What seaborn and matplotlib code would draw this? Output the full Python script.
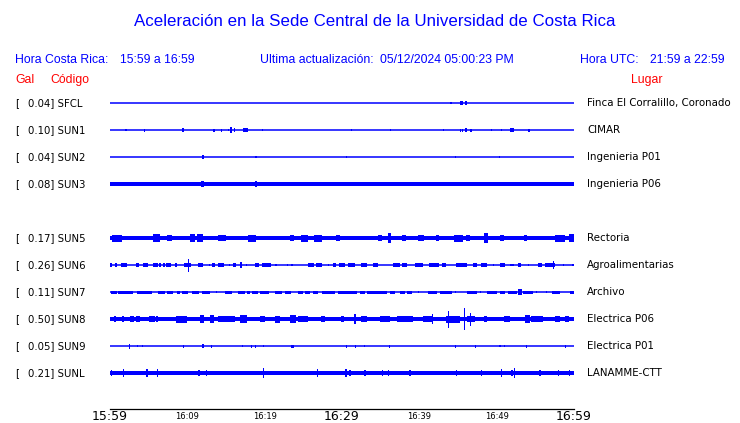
import matplotlib
matplotlib.use("Agg")
import matplotlib.pyplot as plt
import pandas as pd
import seaborn as sns
from matplotlib.transforms import blended_transform_factory

# ---------------- data ----------------
TITLE = "Aceleración en la Sede Central de la Universidad de Costa Rica"
HDR_CR_LABEL = "Hora Costa Rica:"
HDR_CR_RANGE = "15:59 a 16:59"
HDR_UPDATE = "Ultima actualización:"
HDR_UPDATE_VAL = "05/12/2024 05:00:23 PM"
HDR_UTC_LABEL = "Hora UTC:"
HDR_UTC_RANGE = "21:59 a 22:59"
COL_GAL, COL_CODE, COL_PLACE = "Gal", "Código", "Lugar"

CODES = ["SFCL", "SUN1", "SUN2", "SUN3", "SUN5", "SUN6", "SUN7", "SUN8", "SUN9", "SUNL"]
GAL = [0.04, 0.10, 0.04, 0.08, 0.17, 0.26, 0.11, 0.50, 0.05, 0.21]
PLACES = ["Finca El Corralillo, Coronado", "CIMAR", "Ingenieria P01", "Ingenieria P06",
          "Rectoria", "Agroalimentarias", "Archivo", "Electrica P06", "Electrica P01",
          "LANAMME-CTT"]
ROWS = [0, 1, 2, 3, 5, 6, 7, 8, 9, 10]          # slot 4 (SUN4) is empty
BAND_PX = [0, 0, 0, 1.7, 2.2, 0, 0, 2.0, 0, 1.7]  # steady noise half-width (px)

TICK_MIN = [0, 5, 10, 15, 20, 25, 30, 35, 40, 45, 50, 55, 60]
TICK_LABELS = ["15:59", "", "16:09", "", "16:19", "", "16:29", "", "16:39", "", "16:49", "", "16:59"]
BIG_TICKS = ["15:59", "16:29", "16:59"]

# bursts: (start minute, end minute, half amplitude in px)
SFCL_EV = [(44.0, 44.2, 0.8), (45.3, 45.6, 1.6), (45.9, 46.2, 1.6)]
SUN1_EV = [(2.0, 2.15, 1.0), (4.4, 4.55, 1.5), (9.3, 9.55, 1.6), (13.35, 13.6, 1.5), (14.3, 14.5, 1.5),
           (15.2, 15.35, 1.2), (15.55, 15.75, 2.6), (16.0, 16.2, 1.6), (17.2, 17.9, 1.6), (19.6, 19.75, 0.8),
           (31.2, 31.35, 1.2), (36.15, 36.3, 0.8), (43.05, 43.2, 1.2), (45.2, 45.35, 1.5), (45.55, 45.7, 1.5),
           (45.95, 46.15, 1.6), (46.55, 46.75, 1.5), (49.3, 49.45, 1.2), (50.6, 50.75, 1.2), (51.7, 52.3, 1.6),
           (54.1, 54.3, 1.5)]
SUN2_EV = [(11.85, 12.1, 1.6), (18.8, 18.95, 1.2), (30.5, 30.65, 1.2), (44.55, 44.7, 1.2), (50.3, 50.45, 1.0)]
SUN3_EV = [(11.8, 12.1, 3.0), (18.8, 18.95, 2.6), (50.35, 50.5, 2.2)]
SUN5_EV = [(0.2, 1.5, 3.5), (5.6, 6.5, 3.6), (7.4, 8.0, 3.4), (10.4, 11.0, 4.2), (11.3, 12.0, 4.0),
           (14.0, 15.0, 3.4), (17.9, 18.9, 3.5), (23.3, 23.8, 3.0), (24.7, 25.6, 3.5), (26.4, 27.4, 3.5),
           (29.2, 29.8, 3.0), (34.6, 35.2, 3.0), (36.0, 36.4, 4.6), (37.7, 38.3, 3.4), (39.8, 40.6, 3.4),
           (42.1, 42.5, 3.4), (44.5, 45.6, 3.5), (46.0, 46.6, 3.4), (48.3, 48.9, 5.0), (50.4, 51.0, 3.0),
           (53.5, 53.9, 3.0), (57.6, 58.8, 3.5), (59.3, 60.0, 3.6)]
SUN6_EV = [(0.05, 0.25, 1.6), (0.65, 0.85, 1.6), (1.4, 2.15, 1.8), (3.3, 3.7, 1.6), (4.3, 4.85, 1.6),
           (5.6, 6.15, 1.6), (6.4, 6.55, 1.6), (6.85, 7.05, 1.6), (7.3, 7.9, 1.6), (8.4, 8.6, 1.6),
           (9.6, 10.5, 2.2), (10.05, 10.2, 6.5), (11.4, 12.0, 1.6), (12.75, 12.9, 1.0), (13.2, 13.6, 1.6),
           (14.0, 14.8, 1.6), (15.35, 15.5, 1.2), (15.9, 16.25, 1.6), (16.85, 17.05, 3.2), (17.6, 17.75, 1.0),
           (18.8, 19.25, 1.6), (19.7, 20.8, 1.6), (21.4, 21.55, 1.2), (22.9, 23.05, 1.0), (23.45, 23.6, 1.0),
           (25.6, 26.4, 1.6), (26.6, 27.4, 1.6), (28.15, 28.3, 1.2), (28.8, 29.2, 1.6), (29.6, 30.4, 1.6),
           (30.8, 31.7, 1.6), (32.5, 33.2, 1.6), (34.0, 34.7, 1.6), (36.6, 37.5, 1.6), (37.8, 38.4, 1.6),
           (39.4, 40.5, 1.6), (41.2, 42.5, 1.6), (42.9, 43.5, 1.6), (44.8, 46.1, 1.6), (46.9, 47.4, 1.6),
           (48.0, 48.7, 1.6), (49.5, 49.65, 1.0), (50.4, 51.1, 1.6), (51.7, 52.2, 1.2), (52.8, 53.2, 1.6),
           (54.0, 54.15, 1.0), (55.4, 55.8, 1.6), (56.3, 57.5, 1.8), (57.25, 57.4, 3.6), (58.55, 58.7, 1.0),
           (59.8, 59.95, 1.0)]
SUN7_EV = [(0.13, 0.86, 1.5), (1.07, 3.01, 1.5), (3.44, 5.38, 1.5), (6.25, 7.11, 1.5), (7.32, 8.19, 1.5),
           (8.62, 9.05, 1.5), (9.35, 10.04, 1.5), (10.64, 11.51, 1.5), (11.85, 12.93, 1.5), (13.75, 13.9, 1.2),
           (14.87, 15.73, 1.5), (16.59, 17.45, 1.5), (17.67, 18.10, 1.5), (18.32, 19.18, 1.5), (19.39, 20.56, 1.5),
           (21.33, 22.19, 1.5), (22.62, 23.40, 1.5), (24.35, 24.99, 1.5), (25.21, 25.86, 1.5), (26.29, 26.93, 1.5),
           (27.37, 29.09, 1.5), (29.52, 31.90, 1.5), (32.33, 32.97, 1.5), (33.19, 35.77, 1.5), (36.21, 36.85, 1.5),
           (37.50, 38.15, 1.5), (38.36, 39.01, 1.5), (39.8, 39.95, 1.2), (41.16, 42.24, 1.5), (42.67, 44.18, 1.5),
           (44.55, 44.7, 1.2), (46.12, 47.41, 1.5), (47.8, 47.95, 1.2), (48.71, 50.0, 1.5), (50.43, 51.08, 1.5),
           (51.51, 52.59, 1.5), (52.8, 53.23, 3.0), (53.45, 54.74, 1.5), (55.1, 55.25, 1.2), (56.4, 56.55, 1.2),
           (57.11, 58.19, 1.5), (59.48, 60.0, 1.5)]
SUN8_EV = [(0.5, 0.8, 3.0), (1.6, 1.85, 3.0), (2.6, 3.1, 3.0), (3.4, 3.9, 3.0), (5.1, 5.8, 3.2),
           (6.0, 6.25, 3.0), (8.5, 9.9, 3.5), (11.6, 12.1, 3.6), (12.9, 13.4, 4.0), (14.0, 16.2, 3.2),
           (16.8, 17.7, 3.8), (19.4, 20.0, 3.0), (21.3, 22.0, 3.5), (23.3, 24.1, 3.6), (24.3, 25.6, 3.2),
           (27.3, 27.8, 3.0), (29.9, 30.2, 3.0), (31.6, 31.75, 5.0), (32.5, 33.2, 3.0), (34.9, 36.2, 3.0),
           (37.1, 39.2, 3.0), (40.5, 41.8, 3.4), (41.65, 41.8, 4.6), (43.4, 45.3, 3.5), (43.7, 43.85, 8.5),
           (45.75, 45.9, 11.0), (46.1, 47.2, 3.2), (46.5, 46.65, 6.5), (48.3, 48.7, 3.0), (50.9, 51.7, 3.0),
           (53.7, 54.3, 3.6), (54.5, 56.0, 3.0), (57.5, 58.2, 3.0), (58.8, 59.3, 3.0)]
SUN9_EV = [(2.5, 2.65, 2.5), (3.45, 3.6, 1.0), (4.1, 4.25, 1.0), (9.4, 9.55, 1.5), (11.85, 12.2, 1.6),
           (13.0, 13.15, 1.5), (17.05, 17.2, 1.0), (18.25, 18.4, 1.5), (18.75, 18.9, 1.5), (19.75, 19.9, 1.0),
           (23.4, 23.85, 1.5), (30.55, 30.7, 1.5), (31.7, 31.85, 1.5), (32.85, 32.95, 1.0), (36.05, 36.2, 1.5),
           (44.55, 44.7, 1.5), (47.15, 47.3, 1.5), (50.35, 50.5, 1.2), (50.9, 51.05, 1.2), (53.8, 53.95, 1.5),
           (58.8, 58.95, 1.5)]
SUNL_EV = [(0.1, 0.25, 2.6), (1.65, 1.8, 3.6), (4.7, 4.85, 3.6), (6.1, 6.25, 3.6), (11.4, 11.6, 3.0),
           (12.4, 12.6, 3.0), (19.75, 19.9, 5.0), (26.8, 26.95, 3.6), (30.45, 30.6, 3.6), (30.95, 31.1, 3.0),
           (32.9, 33.05, 3.0), (35.2, 35.35, 3.0), (35.9, 36.1, 3.0), (38.7, 38.9, 2.6), (44.75, 44.9, 2.6),
           (48.0, 48.15, 3.0), (50.6, 50.75, 4.0), (51.9, 52.05, 3.0), (52.2, 52.35, 4.6), (55.5, 55.7, 2.6),
           (57.9, 58.05, 3.0), (59.3, 59.5, 2.6)]
EVENTS = [SFCL_EV, SUN1_EV, SUN2_EV, SUN3_EV, SUN5_EV, SUN6_EV, SUN7_EV, SUN8_EV, SUN9_EV, SUNL_EV]

# ---------------- style ----------------
sns.set_style("white")
plt.rcParams["font.family"] = ["DejaVu Sans"]
BLUE = "#0000ff"
RED = "#ff0000"
HFONT = ["Liberation Sans", "DejaVu Sans"]

W, H = 740, 423
fig = plt.figure(figsize=(W / 100, H / 100), dpi=100)
ax_top_px, ax_bot_px = 89.5, 409
ax = fig.add_axes([110 / W, 1 - ax_bot_px / H, 464 / W, (ax_bot_px - ax_top_px) / H])
Y_TOP, Y_BOT = -0.5, 11.333
ax.set_xlim(0, 60)
ax.set_ylim(Y_BOT, Y_TOP)
px_per_row = (ax_bot_px - ax_top_px) / (Y_BOT - Y_TOP)

# baselines with seaborn
base = pd.DataFrame({
    "code": [c for c in CODES for _ in (0, 1)],
    "minute": [m for _ in CODES for m in (TICK_MIN[0], TICK_MIN[-1])],
    "row": [r for r in ROWS for _ in (0, 1)],
})
sns.lineplot(data=base, x="minute", y="row", units="code", estimator=None,
             color=BLUE, lw=1.1, ax=ax, legend=False)

# steady noise bands and bursts
for row, band, evs in zip(ROWS, BAND_PX, EVENTS):
    if band > 0:
        h = band / px_per_row
        ax.bar(TICK_MIN[0], 2 * h, width=TICK_MIN[-1] - TICK_MIN[0], bottom=row - h,
               align="edge", color=BLUE, linewidth=0)
    for s, e, a in evs:
        h = a / px_per_row
        ax.bar(s, 2 * h, width=e - s, bottom=row - h, align="edge", color=BLUE, linewidth=0)

# axis styling
for side in ("left", "top", "right"):
    ax.spines[side].set_visible(False)
ax.spines["bottom"].set_color("black")
ax.spines["bottom"].set_linewidth(0.9)
ax.set_yticks([])
ax.set_xlabel("")
ax.set_ylabel("")
ax.set_xticks(TICK_MIN)
ax.set_xticklabels(TICK_LABELS)
ax.tick_params(axis="x", direction="in", length=6.2, width=0.8, pad=2.0, colors="black")
for tick, lab in zip(ax.xaxis.get_major_ticks(), ax.get_xticklabels()):
    lab.set_color("black")
    if lab.get_text() in BIG_TICKS:
        lab.set_fontsize(9)
        lab.set_verticalalignment("baseline")
        tick.set_pad(7.6)
    else:
        lab.set_fontsize(6)

# station labels
tr = blended_transform_factory(fig.transFigure, ax.transData)
for row, g, code, place in zip(ROWS, GAL, CODES, PLACES):
    ax.text(15 / W, row, "[", transform=tr, va="center", ha="left", fontsize=7.3, color="black")
    ax.text(27.5 / W, row, f"{g:.2f}] {code}", transform=tr, va="center", ha="left",
            fontsize=7.3, color="black")
    ax.text(587 / W, row, place, transform=tr, va="center", ha="left", fontsize=7.4, color="black")

# title and headers
def ftext(x, y, s, **kw):
    fig.text(x / W, 1 - y / H, s, **kw)

ftext(375, 22, TITLE, ha="center", va="center", fontsize=12.2, color=BLUE, family=HFONT)
hk = dict(va="center", ha="left", fontsize=8.8, color=BLUE, family=HFONT)
ftext(15, 60, HDR_CR_LABEL, **hk)
ftext(120.5, 60, HDR_CR_RANGE, **hk)
ftext(260, 60, HDR_UPDATE, **hk)
ftext(380, 60, HDR_UPDATE_VAL, **hk)
ftext(580.5, 60, HDR_UTC_LABEL, **hk)
ftext(650.5, 60, HDR_UTC_RANGE, **hk)
rk = dict(va="center", ha="left", fontsize=8.8, color=RED, family=HFONT)
ftext(15, 80, COL_GAL, **rk)
ftext(50, 80, COL_CODE, **rk)
ftext(630.5, 80, COL_PLACE, **rk)

fig.savefig("out.png", dpi=100)
